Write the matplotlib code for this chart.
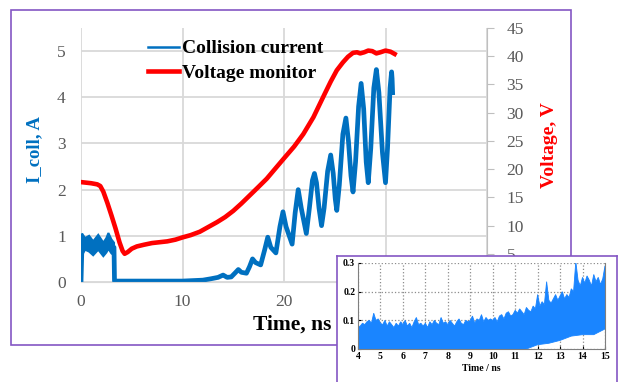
import numpy as np
import matplotlib.pyplot as plt
from matplotlib.lines import Line2D
from matplotlib.patches import Rectangle

plt.rcParams['font.family'] = ['Liberation Serif', 'DejaVu Serif']

# collision current, A (main chart)
t_cur = [0.0, 0.1, 3.25, 3.3, 5, 8, 10, 11, 12, 12.8, 13.5, 14.0, 14.4, 14.8,
         15.2, 15.5, 15.8, 16.3, 16.6, 16.9, 17.2, 17.7, 18.1, 18.4, 18.7, 19.2,
         19.6, 19.9, 20.2, 20.8, 21.1, 21.4, 21.7, 22.2, 22.5, 22.8, 23.0, 23.2,
         23.45, 23.7, 23.95, 24.3, 24.6, 24.85, 25.05, 25.2, 25.45, 25.8, 26.1,
         26.35, 26.6, 26.8, 27.05, 27.35, 27.6, 27.85, 28.1, 28.3, 28.55, 28.85,
         29.1, 29.35, 29.7, 30.0, 30.2, 30.45, 30.6, 30.65, 30.7]
i_cur = [0.0, 0.85, 0.75, 0.02, 0.02, 0.02, 0.02, 0.03, 0.04, 0.07, 0.1, 0.15,
         0.1, 0.11, 0.2, 0.27, 0.21, 0.19, 0.33, 0.5, 0.42, 0.37, 0.7, 0.97, 0.75,
         0.63, 1.2, 1.52, 1.2, 0.82, 1.5, 2.0, 1.6, 1.05, 1.6, 2.2, 2.35, 2.15,
         1.6, 1.22, 1.6, 2.4, 2.75, 2.35, 1.8, 1.55, 2.1, 3.2, 3.55, 3.05, 2.3,
         1.95, 2.6, 3.8, 4.3, 3.75, 2.6, 2.15, 2.9, 4.2, 4.6, 4.1, 2.8, 2.15, 2.9,
         4.2, 4.55, 4.4, 4.1]
# noisy start of the current (upper / lower edge)
t_early = [0.1, 0.4, 0.8, 1.2, 1.7, 2.2, 2.5, 2.7, 3.0, 3.25]
i_early_hi = [1.05, 0.95, 1.0, 0.88, 1.02, 0.85, 0.95, 1.06, 0.92, 0.85]
i_early_lo = [0.58, 0.7, 0.66, 0.58, 0.7, 0.56, 0.64, 0.72, 0.62, 0.58]

# voltage monitor, V
t_volt = [0, 1.0, 1.6, 1.9, 2.2, 2.6, 3.0, 3.4, 3.8, 4.1, 4.3, 4.6, 5.0, 5.5,
          6.2, 7.0, 8.5, 9.3, 10, 10.8, 11.7, 12.5, 13.4, 14.2, 15, 15.8, 16.6,
          17.4, 18.3, 19.1, 19.9, 21.0, 21.9, 22.9, 24.0, 24.6, 25.2, 25.8, 26.3,
          26.8, 27.2, 27.5, 27.9, 28.3, 28.7, 29.1, 29.5, 30.0, 30.5, 30.9]
v_mon = [17.7, 17.5, 17.3, 17.0, 16.0, 14.0, 11.8, 9.5, 7.0, 5.5, 5.0, 5.3,
         5.9, 6.3, 6.6, 6.9, 7.2, 7.5, 7.9, 8.3, 8.9, 9.7, 10.6, 11.5, 12.6,
         13.9, 15.3, 16.7, 18.3, 20.0, 21.7, 24.0, 26.2, 29.2, 33.3, 35.5, 37.5,
         38.9, 39.9, 40.6, 40.7, 40.5, 40.7, 41.0, 40.9, 40.5, 40.7, 41.0, 40.8,
         40.4]

# inset: current 4-15 ns, A
t_in = [round(4 + 0.1 * k, 1) for k in range(111)]
i_in_hi = [0.075, 0.08, 0.09, 0.085, 0.095, 0.1, 0.09, 0.125, 0.1, 0.105,
           0.09, 0.085, 0.1, 0.08, 0.095, 0.085, 0.075, 0.09, 0.08, 0.095,
           0.085, 0.1, 0.08, 0.09, 0.075, 0.095, 0.11, 0.085, 0.09, 0.08,
           0.09, 0.075, 0.095, 0.085, 0.1, 0.09, 0.085, 0.11, 0.09, 0.095,
           0.085, 0.1, 0.09, 0.08, 0.095, 0.105, 0.09, 0.085, 0.1, 0.095,
           0.1, 0.115, 0.09, 0.105, 0.1, 0.12, 0.095, 0.11, 0.1, 0.105,
           0.1, 0.11, 0.095, 0.115, 0.12, 0.105, 0.125, 0.13, 0.115, 0.12,
           0.135, 0.125, 0.14, 0.13, 0.12, 0.145, 0.135, 0.13, 0.15, 0.14,
           0.19, 0.15, 0.165, 0.155, 0.235, 0.17, 0.16, 0.175, 0.19, 0.17,
           0.185, 0.2, 0.175, 0.19, 0.18, 0.21, 0.2, 0.305, 0.24, 0.22,
           0.25, 0.23, 0.255, 0.24, 0.22, 0.26, 0.235, 0.25, 0.225, 0.245,
           0.29]
t_in_lo = [4, 11.5, 12.0, 12.5, 13.0, 13.5, 14.0, 14.5, 15.0]
i_in_lo = [0, 0, 0.015, 0.02, 0.03, 0.045, 0.05, 0.05, 0.07]

W, H = 618, 382
def fx(px):
    return px / W
def fy(py):
    return 1 - py / H

purple = '#8456c4'
blue = '#0070c0'
red = '#ff0000'
grey_txt = '#595959'

fig = plt.figure(figsize=(W / 100, H / 100), dpi=100)

# frame round the main chart
fig.patches.append(Rectangle((fx(11), fy(345)), fx(571) - fx(11), fy(10) - fy(345),
                             transform=fig.transFigure, fill=False, ec=purple, lw=1.2))

ax = fig.add_axes([fx(81), fy(282), fx(487) - fx(81), fy(28) - fy(282)])
ax2 = ax.twinx()

ax.fill(t_early + t_early[::-1], i_early_hi + i_early_lo[::-1], color=blue, lw=1.5)
ax.plot(t_cur, i_cur, color=blue, lw=3.4, solid_joinstyle='round')
ax2.plot(t_volt, v_mon, color=red, lw=3.3, solid_joinstyle='round')

ax.set_xlim(0, 40)
ax.set_ylim(0, 5.5)
ax2.set_ylim(0, 45)
ax.set_xticks([0, 10, 20, 30, 40])
ax.set_yticks(range(6))
ax2.set_yticks(range(0, 46, 5))
ax.grid(True, color='#d9d9d9', lw=1.3)
ax.set_axisbelow(True)
for a in (ax, ax2):
    for s in a.spines.values():
        s.set_visible(False)
ax2.spines['right'].set_visible(True)
ax2.spines['right'].set_color('#bfbfbf')
ax.spines['bottom'].set_visible(True)
ax.spines['bottom'].set_color('#d9d9d9')
ax.tick_params(length=0, labelsize=12.5, labelcolor=grey_txt, pad=11)
ax.tick_params(axis='x', pad=9)
ax2.tick_params(length=5, color='#bfbfbf', labelsize=12.5, labelcolor=grey_txt, pad=9)

handles = [Line2D([], [], color=blue, lw=1.8), Line2D([], [], color=red, lw=3.3)]
ax2.legend(handles, ['Collision current', 'Voltage monitor'], loc='upper left',
           bbox_to_anchor=(fx(138), fy(30)), bbox_transform=fig.transFigure,
           frameon=False, handlelength=1.6, handletextpad=0.15, labelspacing=0.35,
           borderpad=0, prop={'weight': 'bold', 'size': 14})

fig.text(fx(35), fy(150), 'I_coll, A', rotation=90, color=blue, fontsize=13.5,
         fontweight='bold', ha='center', va='center')
fig.text(fx(549), fy(145), 'Voltage, V', rotation=90, color=red, fontsize=14,
         fontweight='bold', ha='center', va='center')
fig.text(fx(292), fy(325), 'Time, ns', color='black', fontsize=15.5,
         fontweight='bold', ha='center', va='center')

# inset with its own frame
frame = fig.add_axes([fx(337), -0.05, fx(617) - fx(337), fy(256) + 0.05], zorder=5)
frame.set_xticks([])
frame.set_yticks([])
for s in frame.spines.values():
    s.set_color(purple)
    s.set_linewidth(1.2)

ins = fig.add_axes([fx(358), fy(349), fx(605) - fx(358), fy(263) - fy(349)], zorder=6)
ins.fill(t_in + t_in_lo[::-1], i_in_hi + i_in_lo[::-1], color='#1a85ff', lw=0.6)
ins.set_xlim(4, 15)
ins.set_ylim(0, 0.3)
ins.set_xticks(range(4, 16))
ins.set_yticks([0, 0.1, 0.2, 0.3])
ins.set_yticklabels(['0', '0.1', '0.2', '0.3'])
ins.grid(True, color='#8c8c8c', ls=':', lw=0.9)
ins.set_axisbelow(True)
ins.spines['top'].set_visible(False)
for k in ('left', 'bottom', 'right'):
    ins.spines[k].set_color('#7f7f7f')
ins.tick_params(length=2, direction='in', labelsize=7, pad=2)
for lab in ins.get_xticklabels() + ins.get_yticklabels():
    lab.set_fontweight('bold')
ins.set_xlabel('Time / ns', fontsize=7, fontweight='bold', labelpad=2)

fig.savefig('out.png', dpi=100)
